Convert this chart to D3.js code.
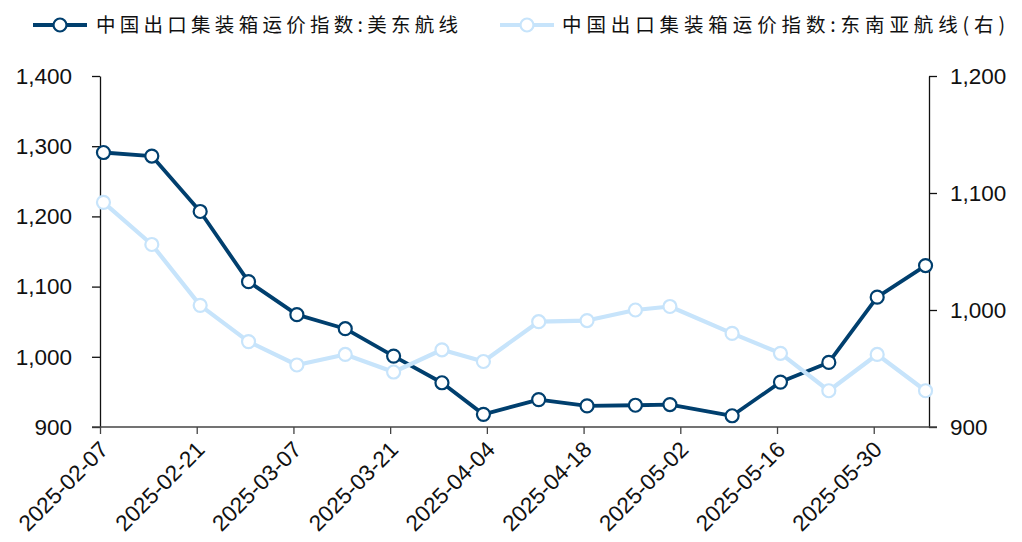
<!DOCTYPE html>
<html>
<head>
<meta charset="utf-8">
<script src="https://cdn.jsdelivr.net/npm/d3@7"></script>
<style>
  body { margin: 0; background: #fff; }
  svg { display: block; }
  .tick text { font-family: "Liberation Sans", Arial, sans-serif; fill: #111; }
</style>
</head>
<body>
<svg id="chart" width="1022" height="542"></svg>
<script>
// dates of the weekly index
const dates = ['2025-02-07','2025-02-14','2025-02-21','2025-02-28','2025-03-07','2025-03-14',
  '2025-03-21','2025-03-28','2025-04-03','2025-04-11','2025-04-18','2025-04-25','2025-04-30',
  '2025-05-09','2025-05-16','2025-05-23','2025-05-30','2025-06-06'];
// 中国出口集装箱运价指数:美东航线 (left axis)
const usEast = [1291,1286,1207,1107,1060,1040,1001,963,918,939,930,931,932,916,964,992,1085,1130];
// 中国出口集装箱运价指数:东南亚航线 (right axis)
const seAsia = [1092,1056,1004,973,953,962,947,966,956,990,991,1000,1003,980,963,931,962,931];
const xTicks = ['2025-02-07','2025-02-21','2025-03-07','2025-03-21','2025-04-04',
  '2025-04-18','2025-05-02','2025-05-16','2025-05-30'];
const leftTicks = [900,1000,1100,1200,1300,1400];
const rightTicks = [900,1000,1100,1200];
const names = ['中国出口集装箱运价指数:美东航线','中国出口集装箱运价指数:东南亚航线(右)'];

const darkColor = '#003f6e', lightColor = '#c7e4fb';
const svg = d3.select('#chart');
const parse = d3.utcParse('%Y-%m-%d');
const m = {left: 100, right: 929, top: 76, bottom: 427};

const x = d3.scaleUtc()
    .domain([parse('2025-02-07'), parse('2025-06-07')])
    .range([m.left, m.right]);
const yL = d3.scaleLinear().domain([900, 1400]).range([m.bottom, m.top]);
const yR = d3.scaleLinear().domain([900, 1200]).range([m.bottom, m.top]);

// points sit in the middle of their day
const px = d => x(new Date(parse(d).getTime() + 12*3600*1000));

// axes
const fmt = d3.format(',');
const gL = svg.append('g').attr('transform', `translate(${m.left},0)`)
    .call(d3.axisLeft(yL).tickValues(leftTicks).tickFormat(fmt).tickSize(8).tickSizeOuter(0).tickPadding(20));
const gR = svg.append('g').attr('transform', `translate(${m.right},0)`)
    .call(d3.axisRight(yR).tickValues(rightTicks).tickFormat(fmt).tickSize(8).tickSizeOuter(0).tickPadding(13));
[gL, gR].forEach(g => {
  g.selectAll('text').style('font-size', '22.5px');
  g.select('.domain').attr('stroke', '#111').attr('stroke-width', 1.3);
  g.selectAll('.tick line').attr('stroke', '#111').attr('stroke-width', 1.3);
});
const gX = svg.append('g').attr('transform', `translate(0,${m.bottom})`)
    .call(d3.axisBottom(x).tickValues(xTicks.map(parse)).tickSize(7).tickSizeOuter(0)
      .tickFormat(d3.utcFormat('%Y-%m-%d')));
gX.select('.domain').attr('stroke', '#444').attr('stroke-width', 1.3)
  .attr('d', `M${m.left-8},0H${m.right+8}`);
gX.selectAll('.tick line').attr('stroke', '#444').attr('stroke-width', 1.3);
gX.selectAll('text')
    .style('font-size', '22.5px')
    .attr('text-anchor', 'end')
    .attr('dy', null).attr('y', 0)
    .attr('transform', 'translate(9,24) rotate(-45)');

// series
function drawSeries(vals, scale, color, width) {
  const line = d3.line().x((d, i) => px(dates[i])).y(d => scale(d));
  svg.append('path').datum(vals)
      .attr('d', line).attr('fill', 'none')
      .attr('stroke', color).attr('stroke-width', width).attr('stroke-linejoin', 'round');
  svg.append('g').selectAll('circle').data(vals).join('circle')
      .attr('cx', (d, i) => px(dates[i])).attr('cy', d => scale(d)).attr('r', 6.5)
      .attr('fill', '#fff').attr('stroke', color).attr('stroke-width', 2.2);
}
drawSeries(usEast, yL, darkColor, 3.8);
drawSeries(seAsia, yR, lightColor, 4.2);

// legend
const legend = [
  {x: 33, color: darkColor, w: 3.8, textX: 96, len: 362},
  {x: 500, color: lightColor, w: 4.2, textX: 562, len: 443}
];
legend.forEach((l, i) => {
  const g = svg.append('g');
  g.append('line').attr('x1', l.x).attr('x2', l.x + 54).attr('y1', 25).attr('y2', 25)
      .attr('stroke', l.color).attr('stroke-width', l.w);
  g.append('circle').attr('cx', l.x + 27).attr('cy', 25).attr('r', 6.5)
      .attr('fill', '#fff').attr('stroke', l.color).attr('stroke-width', 2.2);
  g.append('text').attr('x', l.textX).attr('y', 25).attr('dy', '0.36em')
      .attr('textLength', l.len).attr('lengthAdjust', 'spacing')
      .style('font-family', '"Noto Sans CJK SC", sans-serif').style('font-size', '19.5px')
      .style('fill', '#111').text(names[i]);
});
</script>
</body>
</html>
